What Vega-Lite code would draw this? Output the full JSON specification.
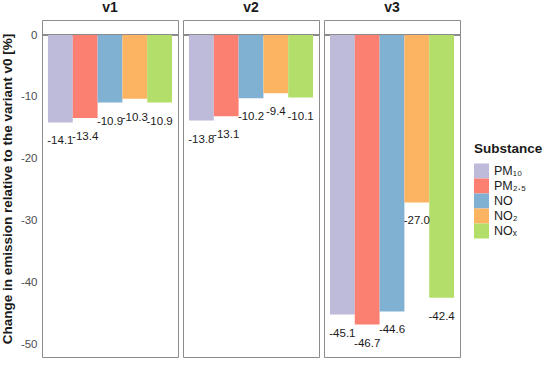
{
  "$schema": "https://vega.github.io/schema/vega-lite/v6.json",
  "background": "white",
  "padding": {"left": 0, "top": 1, "right": 5, "bottom": 5},
  "data": {"values": [
    {"variant": "v1", "substance": "PM₁₀", "value": -14.1},
    {"variant": "v1", "substance": "PM₂.₅", "value": -13.4},
    {"variant": "v1", "substance": "NO", "value": -10.9},
    {"variant": "v1", "substance": "NO₂", "value": -10.3},
    {"variant": "v1", "substance": "NOₓ", "value": -10.9},
    {"variant": "v2", "substance": "PM₁₀", "value": -13.8},
    {"variant": "v2", "substance": "PM₂.₅", "value": -13.1},
    {"variant": "v2", "substance": "NO", "value": -10.2},
    {"variant": "v2", "substance": "NO₂", "value": -9.4},
    {"variant": "v2", "substance": "NOₓ", "value": -10.1},
    {"variant": "v3", "substance": "PM₁₀", "value": -45.1},
    {"variant": "v3", "substance": "PM₂.₅", "value": -46.7},
    {"variant": "v3", "substance": "NO", "value": -44.6},
    {"variant": "v3", "substance": "NO₂", "value": -27.0},
    {"variant": "v3", "substance": "NOₓ", "value": -42.4}
  ]},
  "facet": {
    "column": {"field": "variant", "type": "nominal", "title": null,
      "header": {"labelFontWeight": "bold", "labelFontSize": 14, "labelFont": "Liberation Sans", "labelColor": "#1a1a1a", "labelPadding": 4}}
  },
  "spacing": 3,
  "spec": {
    "width": 136,
    "height": 337,
    "layer": [
      {
        "mark": {"type": "rule", "color": "#888888", "strokeWidth": 1},
        "encoding": {"y": {"datum": 0, "type": "quantitative"}}
      },
      {
        "mark": {"type": "bar"},
        "encoding": {
          "x": {"field": "substance", "type": "nominal", "sort": ["PM₁₀", "PM₂.₅", "NO", "NO₂", "NOₓ"],
            "scale": {"paddingInner": 0, "paddingOuter": 0.24}, "axis": null},
          "y": {"field": "value", "type": "quantitative",
            "scale": {"domain": [-51.94, 2.42], "nice": false, "zero": false},
            "axis": {"title": "Change in emission relative to the variant v0 [%]", "values": [0, -5, -10, -15, -20, -25, -30, -35, -40, -45, -50],
              "labelExpr": "datum.value % 10 === 0 ? datum.label : ''"}},
          "color": {"field": "substance", "type": "nominal", "sort": ["PM₁₀", "PM₂.₅", "NO", "NO₂", "NOₓ"],
            "scale": {"domain": ["PM₁₀", "PM₂.₅", "NO", "NO₂", "NOₓ"], "range": ["#bebada", "#fb8072", "#80b1d3", "#fdb462", "#b3de69"]},
            "legend": {"title": "Substance"}}
        }
      },
      {
        "mark": {"type": "text", "baseline": "middle", "dy": 19, "fontSize": 11.5, "font": "Liberation Sans", "color": "#1a1a1a"},
        "encoding": {
          "x": {"field": "substance", "type": "nominal", "sort": ["PM₁₀", "PM₂.₅", "NO", "NO₂", "NOₓ"], "bandPosition": 0.5},
          "y": {"field": "value", "type": "quantitative"},
          "text": {"field": "value", "type": "quantitative", "format": ".1f"}
        }
      }
    ]
  },
  "resolve": {"scale": {"y": "shared"}},
  "config": {
    "locale": {"number": {"decimal": ".", "thousands": ",", "grouping": [3], "currency": ["$", ""], "minus": "-"}},
    "font": "Liberation Sans",
    "view": {"stroke": "#8c8c8c", "strokeWidth": 1},
    "axis": {"gridColor": "#ebebeb", "gridWidth": 1, "domain": false, "ticks": false, "labelFontSize": 11.5, "labelColor": "#4d4d4d", "labelPadding": 4,
      "titleFontSize": 13.5, "titleFontWeight": "bold", "titleColor": "#1a1a1a", "titlePadding": 6, "labelFont": "Liberation Sans", "titleFont": "Liberation Sans"},
    "legend": {"orient": "none", "legendX": 432, "legendY": 122, "symbolType": "square", "symbolSize": 225, "symbolStrokeWidth": 0,
      "titleFontSize": 13.5, "titleFontWeight": "bold", "titleColor": "#1a1a1a", "labelFontSize": 12.5, "labelColor": "#1a1a1a", "rowPadding": 0, "titlePadding": 8,
      "labelFont": "Liberation Sans", "titleFont": "Liberation Sans", "labelOffset": 5}
  }
}
